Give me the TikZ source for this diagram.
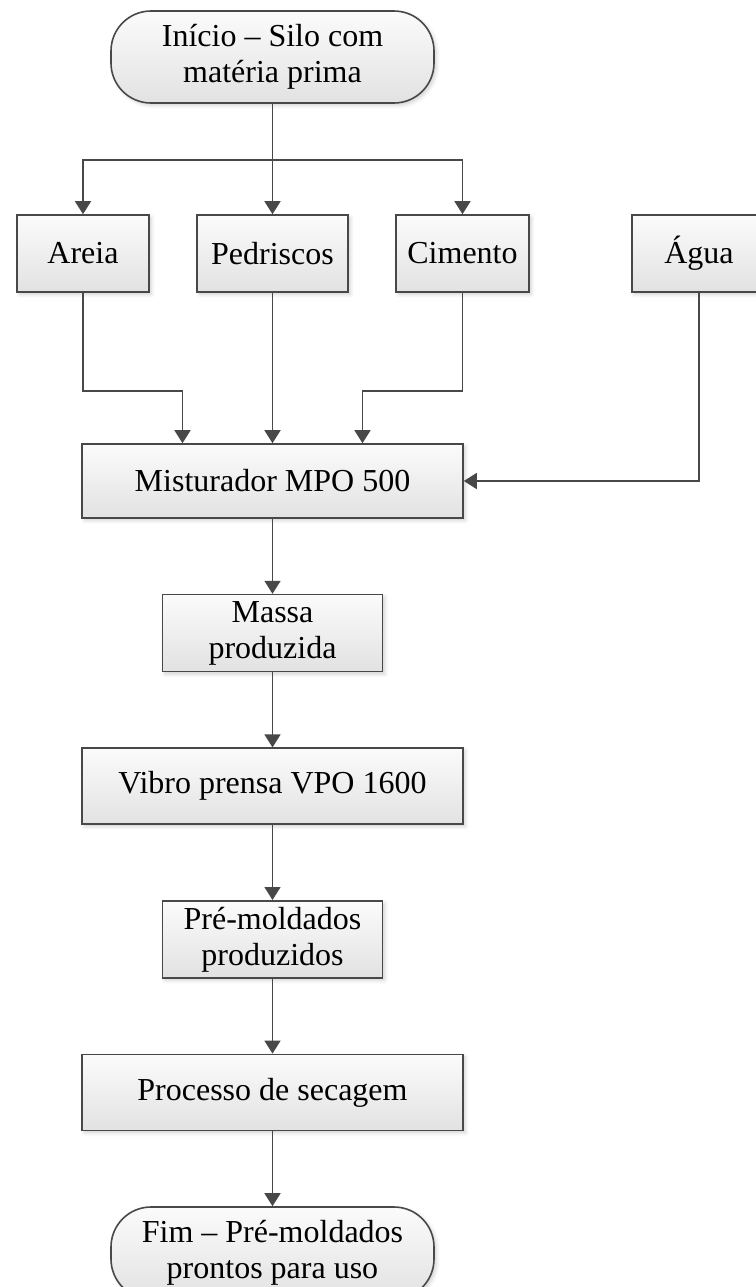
\documentclass[tikz,border=0pt]{standalone}
\usepackage{fontspec}
\setmainfont{Liberation Serif}
\usetikzlibrary{arrows.meta,positioning,calc,shadows.blur}
\definecolor{linegray}{RGB}{72,72,72}
\definecolor{boxtop}{RGB}{251,251,251}
\definecolor{boxbottom}{RGB}{226,226,226}

\begin{document}
\begin{tikzpicture}[x=0.5pt,y=-0.5pt,
    font=\fontsize{16}{18}\selectfont,
    node distance=37.5pt,
    etapa/.style={draw=linegray, line width=0.8pt, top color=boxtop, bottom color=boxbottom,
        inner sep=0pt, align=center,
        blur shadow={shadow xshift=1.2pt, shadow yshift=-1.2pt, shadow opacity=18, shadow blur steps=4}},
    material/.style={etapa, minimum height=38.5pt},
    media/.style={etapa, minimum width=110pt, minimum height=38.5pt},
    longa/.style={etapa, minimum width=190.5pt, minimum height=38pt},
    terminal/.style={etapa, rounded corners=20pt, minimum width=161.5pt, minimum height=46pt},
    seta/.style={draw=linegray, line width=0.8pt, -{Triangle[length=6.5pt,width=8pt]}}]

    \useasboundingbox (0,0) rectangle (756,1287);

    % inicio e materias primas
    \node[terminal] (inicio) at (272.5,57) {Início – Silo com\\matéria prima};
    \node[material, minimum width=66pt] (areia) at (83,253.5) {Areia};
    \node[material, minimum width=75.5pt] (pedriscos) at (272.5,253.5) {Pedriscos};
    \node[material, minimum width=66.5pt] (cimento) at (462.5,253.5) {Cimento};
    \node[material, minimum width=67pt] (agua) at (699,253.5) {Água};

    % processo
    \node[longa, minimum height=37pt] (misturador) at (272.5,481) {Misturador MPO 500};
    \node[media, below=of misturador] (massa) {Massa\\produzida};
    \node[longa, below=of massa] (vibro) {Vibro prensa VPO 1600};
    \node[media, below=of vibro] (premold) {Pré-moldados\\produzidos};
    \node[longa, below=of premold] (secagem) {Processo de secagem};
    \node[terminal, below=of secagem] (fim) {Fim – Pré-moldados\\prontos para uso};

    % ligacoes
    \coordinate (ramo) at (272.5,160);
    \draw[seta] (inicio.south) -- (pedriscos.north);
    \draw[seta] (ramo) -| (areia.north);
    \draw[seta] (ramo) -| (cimento.north);

    \coordinate (entradaA) at ([xshift=-45pt]misturador.north);
    \coordinate (entradaC) at ([xshift=45pt]misturador.north);
    \draw[seta] (areia.south) -- ++(0,98) -| (entradaA);
    \draw[seta] (pedriscos.south) -- (misturador.north);
    \draw[seta] (cimento.south) -- ++(0,98) -| (entradaC);
    \draw[seta] (agua.south) |- (misturador.east);

    \foreach \a/\b in {misturador/massa, massa/vibro, vibro/premold, premold/secagem, secagem/fim}
        \draw[seta] (\a) -- (\b);
\end{tikzpicture}
\end{document}
